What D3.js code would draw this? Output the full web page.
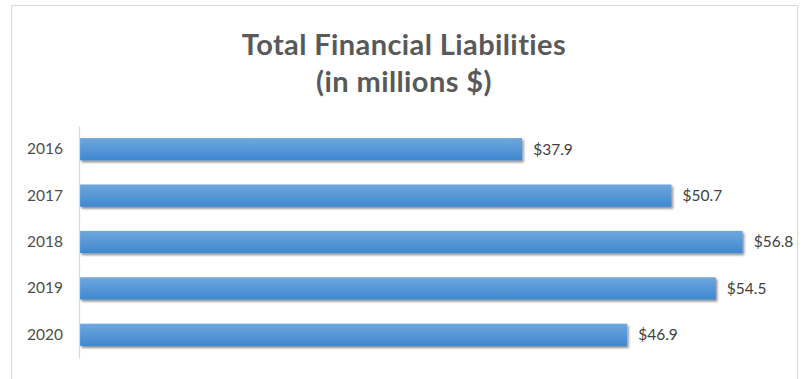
<!DOCTYPE html>
<html>
<head>
<meta charset="utf-8">
<script src="https://cdn.jsdelivr.net/npm/d3@7"></script>
<style>
  html, body { margin: 0; padding: 0; background: #fff; }
  svg { display: block; }
</style>
</head>
<body>
<svg id="chart" width="804" height="379"></svg>
<script>
// Total financial liabilities by year, millions of dollars
const years = ["2016", "2017", "2018", "2019", "2020"];
const liabilities = [37.9, 50.7, 56.8, 54.5, 46.9];
const titleLines = ["Total Financial Liabilities", "(in millions $)"];

const svg = d3.select("#chart");
const W = 804, H = 379;
const font = "Lato, 'Open Sans', sans-serif";

// chart area frame
svg.append("rect")
  .attr("x", 11.5).attr("y", 5.5)
  .attr("width", 786).attr("height", H)
  .attr("fill", "#fff").attr("stroke", "#d9d9d9").attr("stroke-width", 1);

const defs = svg.append("defs");
const grad = defs.append("linearGradient")
  .attr("id", "barGrad").attr("x1", 0).attr("y1", 0).attr("x2", 0).attr("y2", 1);
grad.append("stop").attr("offset", "0%").attr("stop-color", "#6fa7de");
grad.append("stop").attr("offset", "100%").attr("stop-color", "#3e87d0");

const shadow = defs.append("filter").attr("id", "barShadow")
  .attr("x", "-5%").attr("y", "-20%").attr("width", "110%").attr("height", "160%");
shadow.append("feDropShadow")
  .attr("dx", 1.5).attr("dy", 2).attr("stdDeviation", 1.3)
  .attr("flood-color", "#000").attr("flood-opacity", 0.45);

// title
svg.append("g").selectAll("text")
  .data(titleLines)
  .join("text")
  .attr("x", 404)
  .attr("y", (d, i) => 55 + i * 37)
  .attr("text-anchor", "middle")
  .attr("font-family", font)
  .attr("font-weight", "bold")
  .attr("font-size", 29)
  .attr("letter-spacing", 0.4)
  .attr("fill", "#595959")
  .text(d => d);

const x = d3.scaleLinear().domain([0, 60]).range([80, 780]);
const y = d3.scaleBand().domain(years).range([126, 358]).paddingInner(0.52).paddingOuter(0.26);

// bars
svg.append("g").selectAll("rect")
  .data(years)
  .join("rect")
  .attr("x", x(0))
  .attr("y", d => y(d))
  .attr("width", (d, i) => x(liabilities[i]) - x(0))
  .attr("height", y.bandwidth())
  .attr("fill", "url(#barGrad)")
  .attr("filter", "url(#barShadow)");

// category axis
const yAxis = svg.append("g")
  .attr("transform", `translate(${x(0) - 1},0)`)
  .call(d3.axisLeft(y).tickSize(0).tickPadding(16));
yAxis.select(".domain").attr("stroke", "#d9d9d9").attr("stroke-width", 1.2);
yAxis.selectAll("text")
  .attr("font-family", font)
  .attr("font-size", 15.5)
  .attr("fill", "#4d4d4d");

// value labels
svg.append("g").selectAll("text")
  .data(years)
  .join("text")
  .attr("x", (d, i) => x(liabilities[i]) + 11)
  .attr("y", d => y(d) + y.bandwidth() / 2)
  .attr("dy", "0.35em")
  .attr("font-family", font)
  .attr("font-size", 15.5)
  .attr("fill", "#404040")
  .text((d, i) => "$" + liabilities[i].toFixed(1));
</script>
</body>
</html>
